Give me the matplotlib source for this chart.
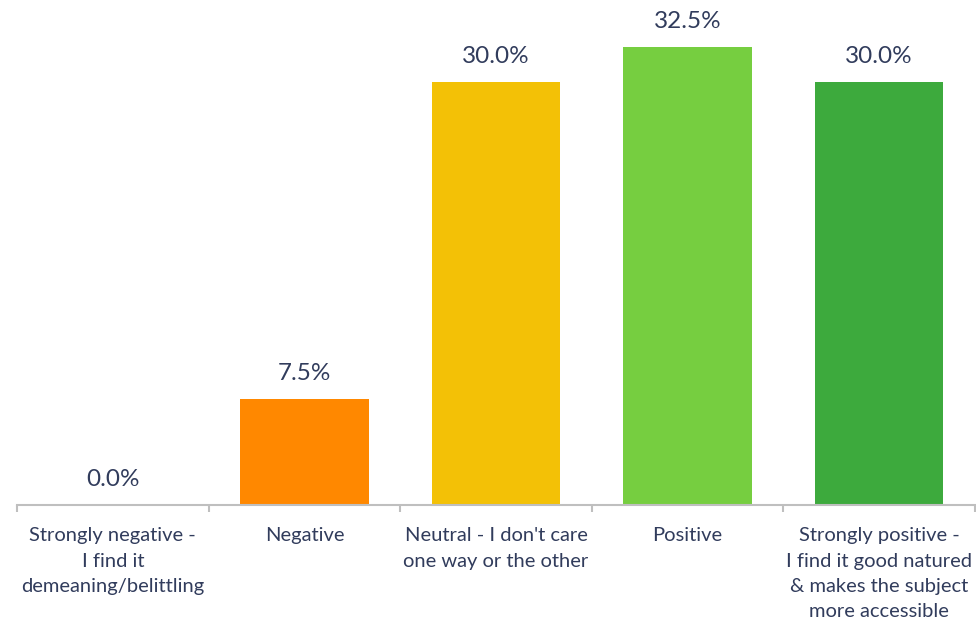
import matplotlib
matplotlib.use("Agg")
import matplotlib.pyplot as plt
import numpy as np

categories = ["Strongly negative -\nI find it\ndemeaning/belittling",
              "Negative",
              "Neutral - I don't care\none way or the other",
              "Positive",
              "Strongly positive -\nI find it good natured\n& makes the subject\nmore accessible"]
values = [0.0, 7.5, 30.0, 32.5, 30.0]
colors = ["#FF8800", "#FF8800", "#F3C106", "#76CE40", "#3DAA3D"]

text_col = "#313C5C"
axis_col = "#BFBFBF"

plt.rcParams['font.family'] = ['Lato', 'DejaVu Sans']

fig = plt.figure(figsize=(9.76, 6.23), dpi=100)
ax = fig.add_axes([17/976, 118/623, 958/976, 505/623])

x = np.arange(len(categories))
bars = ax.bar(x, values, width=0.67, color=colors)

for xi, v in zip(x, values):
    ax.annotate(f"{v:.1f}%", (xi, v), xytext=(0, 13.5), textcoords="offset points",
                ha="center", va="baseline", fontsize=17.5, color=text_col)

ax.set_xlim(-0.5, len(categories) - 0.5)
ax.set_ylim(0, 35.8)
ax.set_yticks([])
for s in ["top", "left", "right"]:
    ax.spines[s].set_visible(False)
ax.spines["bottom"].set_color(axis_col)
ax.spines["bottom"].set_linewidth(1.5)

ax.set_xticks(x)
ax.set_xticklabels(categories, fontsize=14.5, color=text_col, linespacing=1.6, va="top")
ax.tick_params(axis="x", which="major", length=0, pad=16)
ax.set_xticks(np.arange(-0.5, len(categories)), minor=True)
ax.tick_params(axis="x", which="minor", length=5, width=1.5, color=axis_col)

fig.savefig("out.png", dpi=100)
